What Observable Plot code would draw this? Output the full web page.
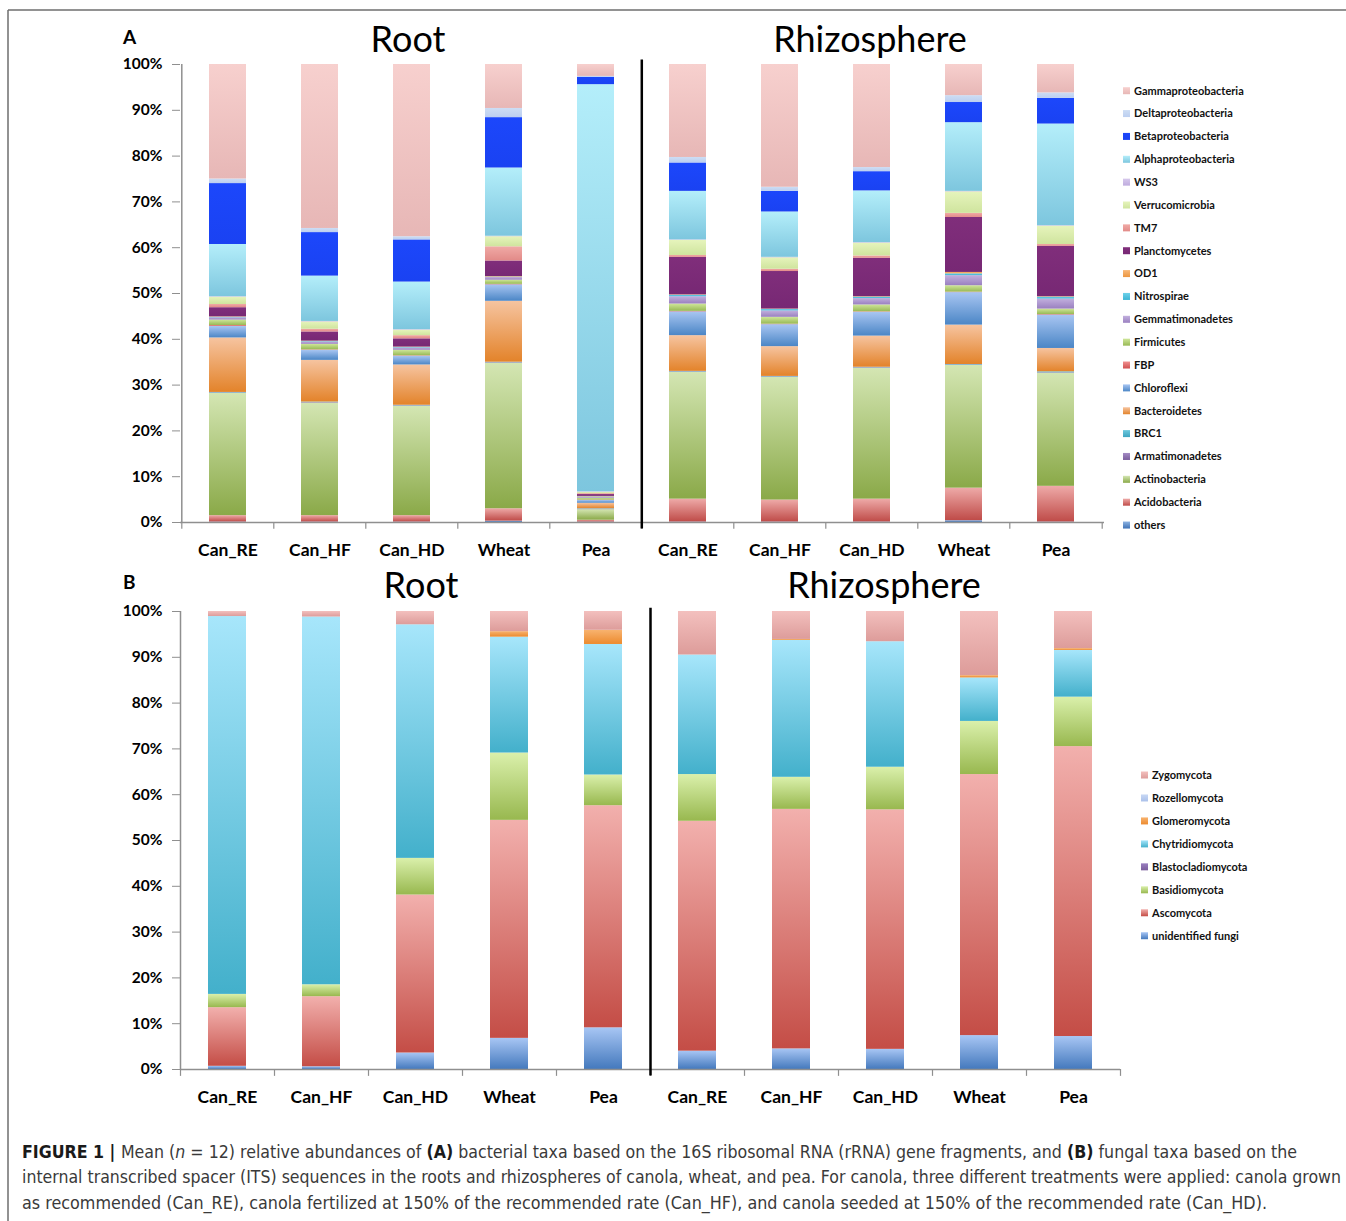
<!DOCTYPE html>
<html>
<head>
<meta charset="utf-8">
<script src="https://cdn.jsdelivr.net/npm/d3@7"></script>
<script src="https://cdn.jsdelivr.net/npm/@observablehq/plot@0.6"></script>
<style>
  html, body { margin: 0; padding: 0; background: #fff; }
  #page { position: relative; width: 1346px; height: 1221px; overflow: hidden; background: #fff; }
  #page > svg, #page > div { position: absolute; }
</style>
</head>
<body>
<div id="page"></div>
<script>
// ---------- categories ----------
const sites = ["Root","Root","Root","Root","Root","Rhizosphere","Rhizosphere","Rhizosphere","Rhizosphere","Rhizosphere"];
const crops = ["Can_RE","Can_HF","Can_HD","Wheat","Pea","Can_RE","Can_HF","Can_HD","Wheat","Pea"];
const yTicks = [0,10,20,30,40,50,60,70,80,90,100];

// ---------- (A) bacterial taxa, % per sample (bottom -> top of stack) ----------
const others              = [0.1, 0.1, 0.1, 0.3, 0.1, 0.1, 0.1, 0.1, 0.4, 0.1];
const Acidobacteria       = [1.4, 1.4, 1.4, 2.7, 0.4, 5.0, 4.8, 5.0, 7.1, 7.8];
const Actinobacteria      = [26.7, 24.6, 23.9, 31.8, 2.3, 27.7, 26.8, 28.6, 26.8, 24.7];
const Armatimonadetes     = [0.1, 0.1, 0.1, 0.1, 0.1, 0.1, 0.1, 0.1, 0.1, 0.1];
const BRC1                = [0.1, 0.1, 0.1, 0.1, 0.1, 0.1, 0.1, 0.1, 0.1, 0.2];
const Bacteroidetes       = [11.9, 9.1, 8.8, 13.3, 1.2, 7.8, 6.5, 6.8, 8.6, 5.1];
const Chloroflexi         = [2.5, 2.2, 1.9, 3.6, 0.6, 5.2, 4.8, 5.2, 7.1, 7.3];
const FBP                 = [0.2, 0.1, 0.1, 0.1, 0.1, 0.1, 0.1, 0.1, 0.1, 0.1];
const Firmicutes          = [1.2, 1.2, 1.2, 0.9, 0.4, 1.6, 1.5, 1.5, 1.4, 1.2];
const Gemmatimonadetes    = [0.5, 0.5, 0.5, 0.6, 0.2, 1.6, 1.4, 1.4, 2.2, 2.2];
const Nitrospirae         = [0.1, 0.1, 0.1, 0.1, 0.1, 0.3, 0.3, 0.3, 0.4, 0.4];
const OD1                 = [0.1, 0.1, 0.1, 0.1, 0.1, 0.1, 0.1, 0.1, 0.3, 0.1];
const Planctomycetes      = [2.0, 2.0, 1.8, 3.4, 0.4, 8.2, 8.2, 8.4, 12.0, 11.0];
const TM7                 = [0.7, 0.6, 0.7, 3.1, 0.2, 0.4, 0.5, 0.5, 0.9, 0.4];
const Verrucomicrobia     = [1.6, 1.6, 1.2, 2.2, 0.3, 3.3, 2.5, 2.8, 4.7, 4.0];
const WS3                 = [0.1, 0.1, 0.1, 0.1, 0.1, 0.1, 0.1, 0.1, 0.1, 0.1];
const Alphaproteobacteria = [11.4, 9.9, 10.4, 14.9, 88.9, 10.6, 9.9, 11.3, 15.0, 22.2];
const Betaproteobacteria  = [13.3, 9.5, 9.2, 11.0, 1.6, 6.2, 4.5, 4.2, 4.4, 5.6];
const Deltaproteobacteria = [1.0, 0.9, 0.7, 2.0, 0.2, 1.2, 0.9, 0.9, 1.5, 1.2];
const Gammaproteobacteria = [25.0, 35.8, 37.6, 9.6, 2.6, 20.3, 26.8, 22.5, 6.8, 6.2];

const bacteriaNames = ["others","Acidobacteria","Actinobacteria","Armatimonadetes","BRC1","Bacteroidetes","Chloroflexi","FBP","Firmicutes","Gemmatimonadetes","Nitrospirae","OD1","Planctomycetes","TM7","Verrucomicrobia","WS3","Alphaproteobacteria","Betaproteobacteria","Deltaproteobacteria","Gammaproteobacteria"];
const bacteriaValues = [others,Acidobacteria,Actinobacteria,Armatimonadetes,BRC1,Bacteroidetes,Chloroflexi,FBP,Firmicutes,Gemmatimonadetes,Nitrospirae,OD1,Planctomycetes,TM7,Verrucomicrobia,WS3,Alphaproteobacteria,Betaproteobacteria,Deltaproteobacteria,Gammaproteobacteria];

// ---------- (B) fungal taxa, % per sample (bottom -> top of stack) ----------
const unidentifiedFungi   = [0.7, 0.6, 3.6, 6.8, 9.1, 4.0, 4.5, 4.4, 7.4, 7.2];
const Ascomycota          = [12.8, 15.3, 34.5, 47.6, 48.5, 50.2, 52.3, 52.3, 57.0, 63.3];
const Basidiomycota       = [2.9, 2.6, 8.0, 14.7, 6.7, 10.2, 7.0, 9.3, 11.6, 10.8];
const Blastocladiomycota  = [0, 0, 0, 0, 0, 0, 0, 0, 0, 0];
const Chytridiomycota     = [82.5, 80.3, 51.0, 25.3, 28.5, 26.1, 29.9, 27.4, 9.5, 10.2];
const Glomeromycota       = [0, 0, 0, 1.2, 3.1, 0, 0.2, 0, 0.5, 0.4];
const Rozellomycota       = [0, 0, 0, 0, 0, 0, 0, 0, 0, 0];
const Zygomycota          = [1.1, 1.2, 2.9, 4.4, 4.1, 9.5, 6.1, 6.6, 14.0, 8.1];

const fungiNames = ["unidentified fungi","Ascomycota","Basidiomycota","Blastocladiomycota","Chytridiomycota","Glomeromycota","Rozellomycota","Zygomycota"];
const fungiValues = [unidentifiedFungi,Ascomycota,Basidiomycota,Blastocladiomycota,Chytridiomycota,Glomeromycota,Rozellomycota,Zygomycota];

// ---------- colours (top, bottom of each gradient) ----------
const bacteriaColors = [
  ["#8db3e2","#3f72b5"], ["#eeaaa8","#bf4b48"], ["#d4e6b3","#8aa948"], ["#a48cc4","#7a5e9c"],
  ["#6cc8de","#3ea4c0"], ["#f6c4a0","#e3832a"], ["#a9c6f2","#4b86c6"], ["#f09090","#d05050"],
  ["#cfe69a","#98b955"], ["#c2b0de","#9a80c0"], ["#6fd2ea","#3cb4d4"], ["#f8b878","#ec9640"],
  ["#802e7b","#772874"], ["#f0aaa6","#e28a88"], ["#e6f4bc","#cfe49e"], ["#d6c8ec","#bfacde"],
  ["#b4eefa","#7dc6de"], ["#1c47fb","#1a42f2"], ["#cdddf4","#bccff0"], ["#f7d0ce","#e7b7b6"]
];
const fungiColors = [
  ["#a8c6f4","#4479bd"], ["#f2b0ad","#c44d46"], ["#daf0ab","#98b84f"], ["#9a7fc0","#7a5e9c"],
  ["#a7e6fb","#43b0cb"], ["#f8b36f","#ec8a2e"], ["#c8d8f4","#aac0ea"], ["#f3c0be","#dd9c9a"]
];

const captionLines = [
  [["b","FIGURE 1 | "],["","Mean ("],["i","n"],[""," = 12) relative abundances of "],["b","(A)"],[""," bacterial taxa based on the 16S ribosomal RNA (rRNA) gene fragments, and "],["b","(B)"],[""," fungal taxa based on the"]],
  [["","internal transcribed spacer (ITS) sequences in the roots and rhizospheres of canola, wheat, and pea. For canola, three different treatments were applied: canola grown"]],
  [["","as recommended (Can_RE), canola fertilized at 150% of the recommended rate (Can_HF), and canola seeded at 150% of the recommended rate (Can_HD)."]]
];

// ---------------------------------------------------------------------------
const page = d3.select("#page");
const keys = sites.map((s, i) => s + "|" + crops[i]);
const gray = "#8f8f8f";

// overlay svg: defs, frame, titles, legends, caption
const over = page.append("svg").attr("width", 1346).attr("height", 1221)
  .style("left", "0px").style("top", "0px").style("pointer-events", "none");
const defs = over.append("defs");
function addGrads(prefix, cols) {
  cols.forEach((c, i) => {
    const g = defs.append("linearGradient").attr("id", prefix + i)
      .attr("x1", 0).attr("y1", 0).attr("x2", 0).attr("y2", 1);
    g.append("stop").attr("offset", "0%").attr("stop-color", c[0]);
    g.append("stop").attr("offset", "100%").attr("stop-color", c[1]);
  });
}
addGrads("gA", bacteriaColors);
addGrads("gB", fungiColors);

function panel({names, values, prefix, width, height, marginTop, marginBottom, marginRight, dividerTop}) {
  const rows = [];
  names.forEach((t, i) => values[i].forEach((v, j) => { if (v > 0) rows.push({key: keys[j], taxon: t, value: v}); }));
  const step = (width - 180 - marginRight) / keys.length;
  return Plot.plot({
    width, height, marginLeft: 180, marginRight, marginTop, marginBottom,
    style: {fontFamily: "Lato, sans-serif", background: "transparent", overflow: "visible"},
    x: {domain: keys, paddingInner: 0.595, paddingOuter: 0.2975, axis: null, label: null},
    y: {domain: [0, 100], axis: null, label: null},
    color: {type: "ordinal", domain: names, range: names.map((t, i) => `url(#${prefix}${i})`)},
    marks: [
      Plot.barY(rows, Plot.stackY({x: "key", y: "value", fill: "taxon"})),
      Plot.ruleY([0], {stroke: gray, strokeWidth: 1.5}),
      Plot.ruleX([keys[0]], {x: d => d, dx: -step / 2, y1: 0, y2: 100, stroke: gray, strokeWidth: 1.5}),
      Plot.ruleX(keys, {x: d => d, dx: -step / 2, y1: 0, y2: -1.5, stroke: gray, strokeWidth: 1.2}),
      Plot.ruleX([keys[keys.length - 1]], {x: d => d, dx: step / 2, y1: 0, y2: -1.5, stroke: gray, strokeWidth: 1.2}),
      Plot.ruleX([keys[5]], {x: d => d, dx: -step / 2, y1: -1.4, y2: dividerTop, stroke: "black", strokeWidth: 2.5}),
      Plot.axisY({ticks: yTicks, tickFormat: d => d + "%", tickSize: 8, tickPadding: 10, stroke: gray, fill: "black", fontSize: 15.5, fontWeight: "bold", label: null}),
      Plot.axisX({tickSize: 0, tickPadding: 21, tickFormat: d => d.split("|")[1], fill: "black", fontSize: 17.5, fontWeight: "bold", label: null})
    ]
  });
}

const plotA = panel({names: bacteriaNames, values: bacteriaValues, prefix: "gA", width: 1110, height: 560, marginTop: 64, marginBottom: 38, marginRight: 6, dividerTop: 101});
const plotB = panel({names: fungiNames, values: fungiValues, prefix: "gB", width: 1125, height: 560, marginTop: 51, marginBottom: 51, marginRight: 5, dividerTop: 100.7});
const divA = page.append("div").style("left", "0px").style("top", "0px");
divA.node().appendChild(plotA);
const divB = page.append("div").style("left", "0px").style("top", "560px");
divB.node().appendChild(plotB);
page.node().appendChild(over.node()); // overlay on top

// frame
over.append("line").attr("x1", 8).attr("y1", 10).attr("x2", 1346).attr("y2", 10).attr("stroke", "#6e6e6e").attr("stroke-width", 1.5);
over.append("line").attr("x1", 8).attr("y1", 10).attr("x2", 8).attr("y2", 1221).attr("stroke", "#6e6e6e").attr("stroke-width", 1.5);

// panel letters and titles
const txt = (x, y, s, size, weight, anchor) => over.append("text").attr("x", x).attr("y", y).text(s)
  .attr("font-family", "Lato, sans-serif").attr("font-size", size).attr("font-weight", weight)
  .attr("text-anchor", anchor).attr("fill", "#000");
txt(123, 44, "A", 19, "bold", "start");
txt(123, 589, "B", 19, "bold", "start");
txt(408, 52, "Root", 36, "normal", "middle");
txt(870, 52, "Rhizosphere", 36, "normal", "middle");
txt(421, 598, "Root", 36, "normal", "middle");
txt(884, 598, "Rhizosphere", 36, "normal", "middle");

// legends (listed top of stack first)
function legend(names, prefix, x0, y0, dy) {
  const order = names.map((n, i) => i).reverse();
  order.forEach((i, k) => {
    const y = y0 + k * dy;
    over.append("rect").attr("x", x0).attr("y", y - 3.5).attr("width", 7).attr("height", 7).attr("fill", `url(#${prefix}${i})`);
    over.append("text").attr("x", x0 + 11).attr("y", y).attr("dy", "0.35em").text(names[i])
      .attr("font-family", "Lato, sans-serif").attr("font-size", 11).attr("font-weight", "bold").attr("fill", "#111");
  });
}
legend(bacteriaNames, "gA", 1123, 90.7, 22.86);
legend(fungiNames, "gB", 1141, 775, 22.96);

// caption
const capEnds = [1297, 1341, 1267];
captionLines.forEach((parts, li) => {
  const t = over.append("text").attr("x", 22).attr("y", 1158 + li * 25.3)
    .attr("font-family", "'Liberation Sans Narrow', 'DejaVu Sans Condensed', 'Liberation Sans', sans-serif")
    .attr("font-size", 17.5).attr("fill", "#3a3a3a")
    .attr("textLength", capEnds[li] - 22).attr("lengthAdjust", "spacingAndGlyphs");
  parts.forEach(([st, s]) => {
    const ts = t.append("tspan").text(s).attr("xml:space", "preserve");
    if (st === "b") ts.attr("font-weight", "bold").attr("fill", "#1a1a1a");
    if (st === "i") ts.attr("font-style", "italic");
  });
  t.style("white-space", "pre");
});
</script>
</body>
</html>
